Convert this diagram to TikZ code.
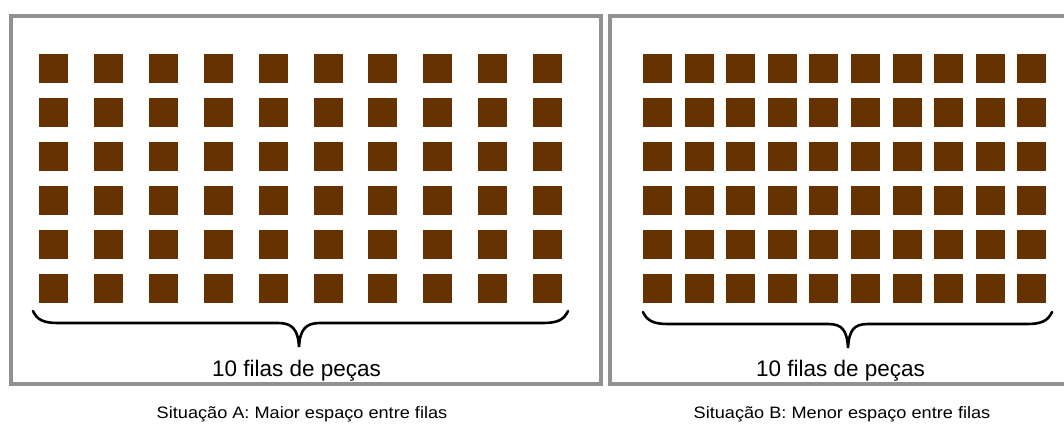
\documentclass[tikz,border=0pt]{standalone}
\usepackage{fontspec}
\setmainfont{Liberation Sans}
\newfontfamily\capfont[FakeStretch=1.1]{Liberation Sans}
\usepackage{xcolor}
\usepackage{tikz}
\usetikzlibrary{positioning}
\definecolor{peca}{RGB}{102,51,0}
\definecolor{moldura}{RGB}{145,145,145}

\begin{document}
\begin{tikzpicture}[x=1pt,y=-1pt,
    painel/.style={draw=moldura,line width=4pt},
    chave/.style={draw=black,line width=2.6pt,line cap=round},
    rotulo/.style={font=\fontsize{22.5}{26}\selectfont,anchor=base},
    legenda/.style={font=\capfont\fontsize{16.5}{20}\selectfont,anchor=base}]
    \useasboundingbox (0,0) rectangle (1064,423);
    % os dois paineis
    \draw[painel] (10.5,15.5) rectangle (601,384);
    \draw[painel] (609.5,15.5) rectangle (1075,384);
    % pecas: 6 linhas x 10 filas
    \foreach \i in {0,...,5} {
      \foreach \j in {0,...,9} {
        \fill[peca] (39+\j*54.9, 54+\i*44) rectangle ++(29,29);
        \fill[peca] (643+\j*41.6, 54+\i*44) rectangle ++(29,29);
      }
    }
    % chaves
    \draw[chave] (33,311) .. controls (37,320) and (44,323) .. (58,323) -- (278,323)
      .. controls (292,323) and (298,329) .. (299,347)
      .. controls (300,329) and (306,323) .. (320,323) -- (543,323)
      .. controls (557,323) and (564,320) .. (568,311);
    \draw[chave] (643,312) .. controls (647,321) and (654,324) .. (668,324) -- (828,324)
      .. controls (842,324) and (847,330) .. (848,348)
      .. controls (849,330) and (854,324) .. (868,324) -- (1027,324)
      .. controls (1041,324) and (1048,321) .. (1052,312);
    \node[rotulo] (filasA) at (296.5,376) {10 filas de peças};
    \node[rotulo] (filasB) at (840.5,376) {10 filas de peças};
    \node[legenda] (legA) at (302,418) {Situação A: Maior espaço entre filas};
    \node[legenda] (legB) at (842,418) {Situação B: Menor espaço entre filas};
\end{tikzpicture}
\end{document}
